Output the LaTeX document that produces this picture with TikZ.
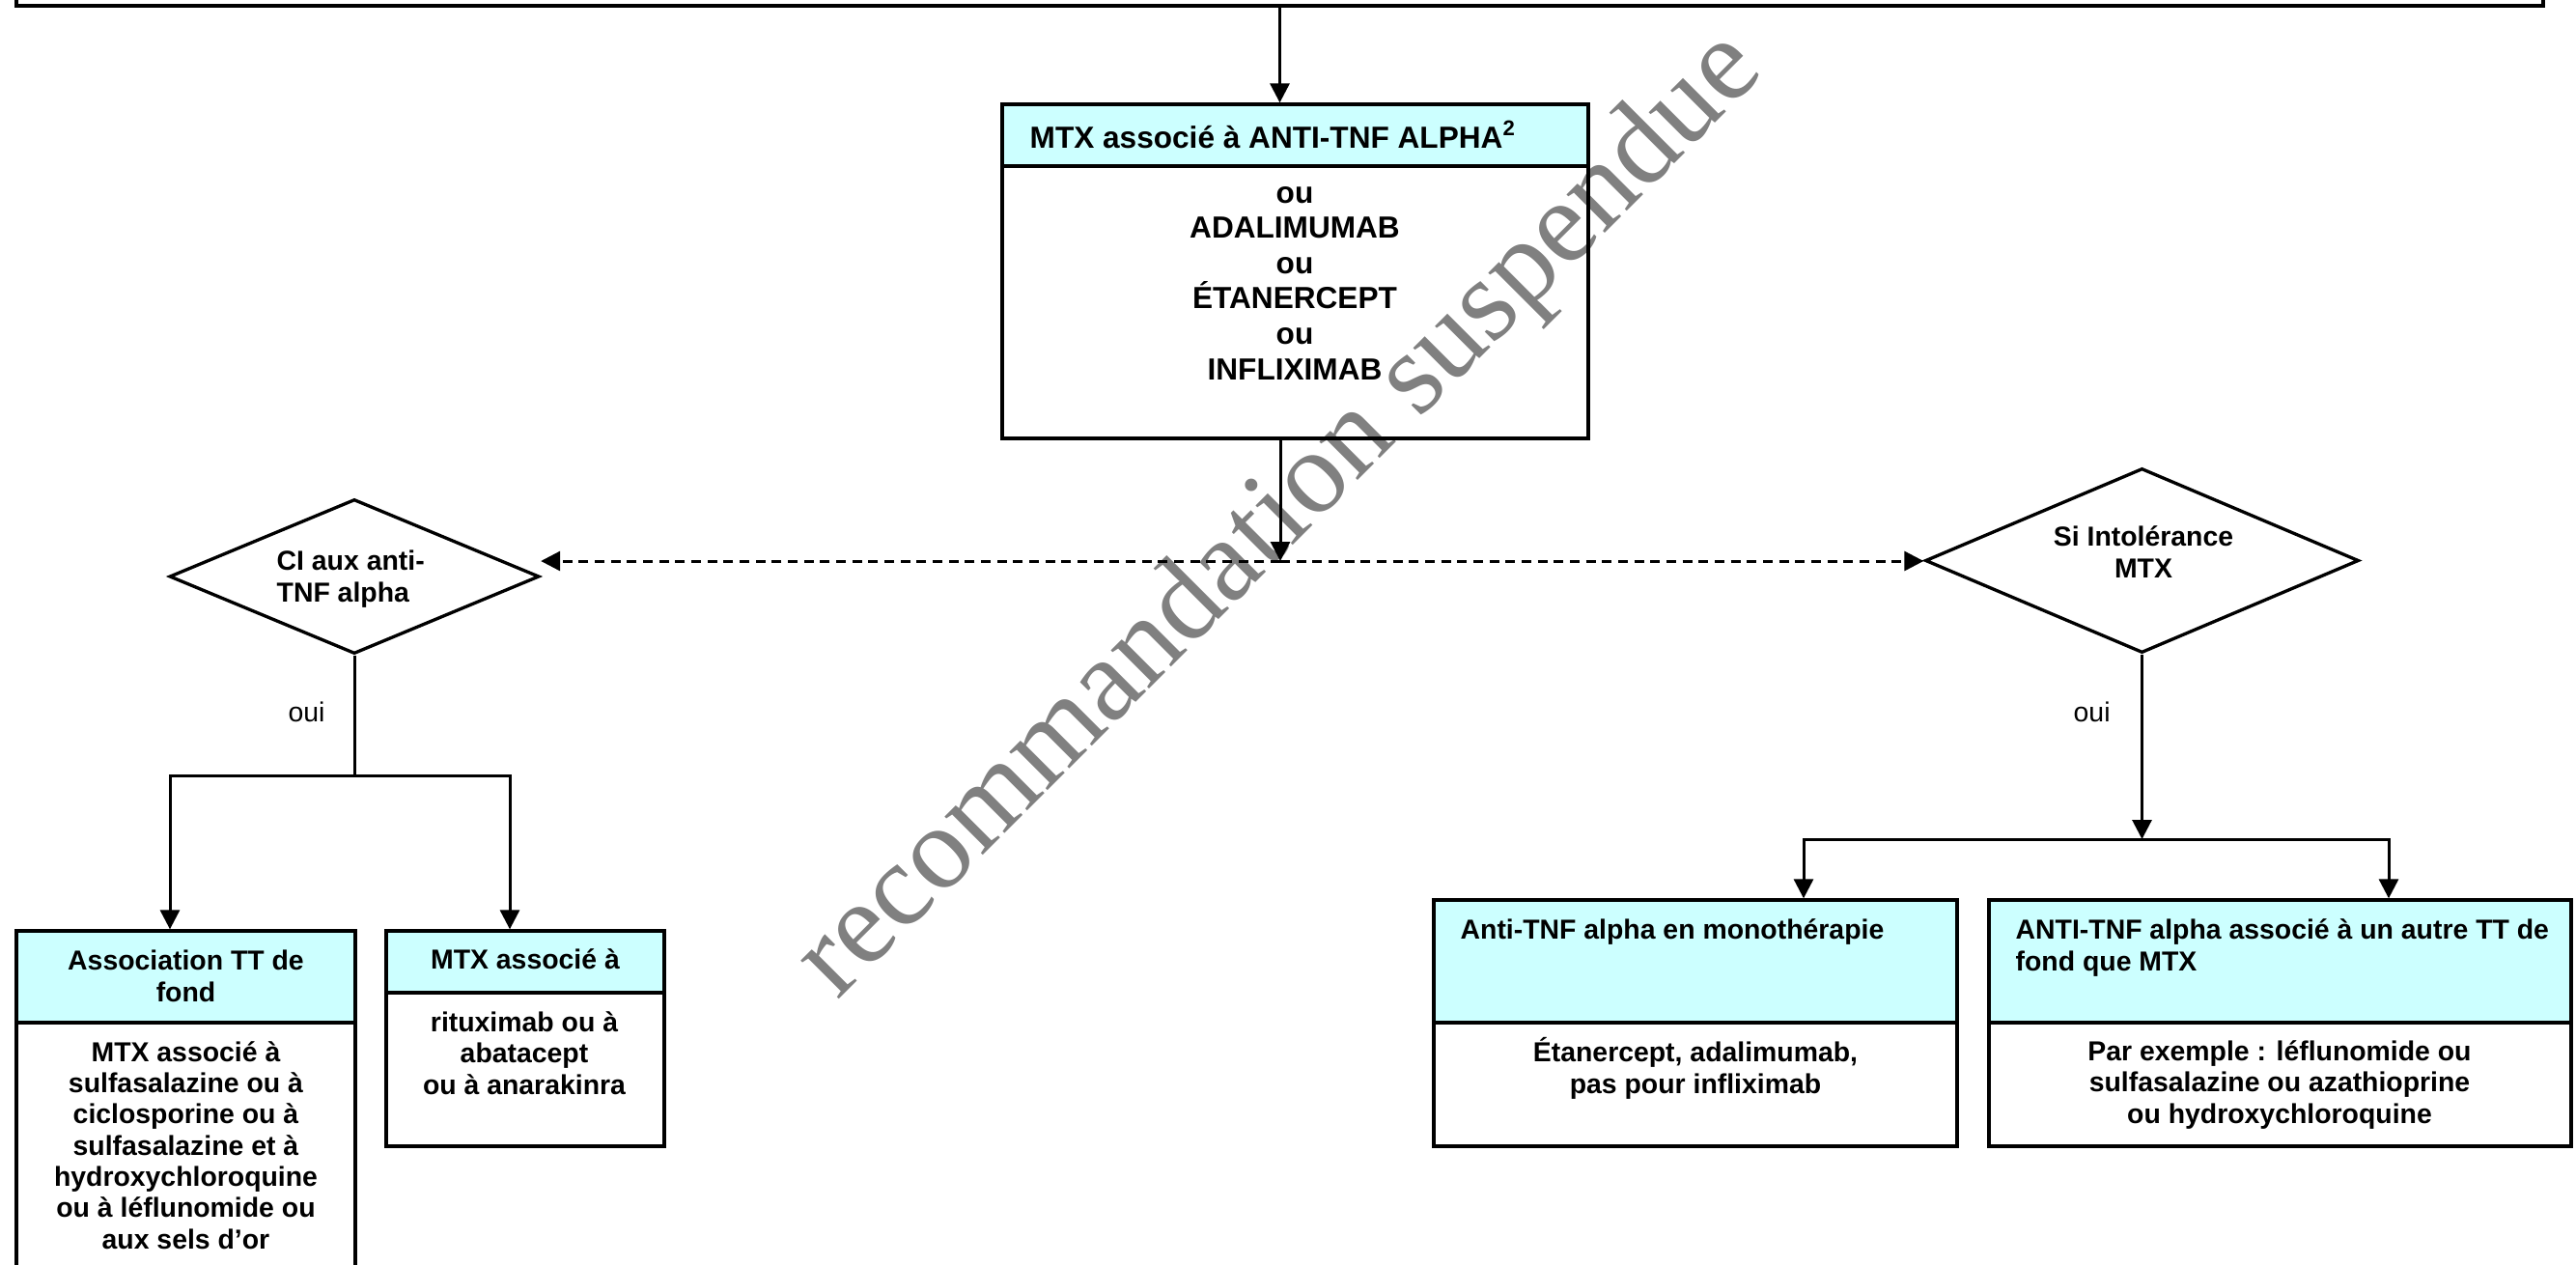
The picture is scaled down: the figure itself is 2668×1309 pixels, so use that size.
\documentclass[tikz,border=0pt]{standalone}
\usepackage{fontspec}
\setmainfont{Liberation Sans}
\newfontfamily\wmfont{Liberation Serif}
\usetikzlibrary{arrows.meta,shapes.geometric,calc}
\definecolor{hdrcyan}{RGB}{204,255,255}
\definecolor{wmgray}{RGB}{128,128,128}
\begin{document}
\begin{tikzpicture}[x=0.3pt,y=-0.3pt,
  boxline/.style={draw=black,line width=1pt},
  hbox/.style={boxline,fill=hdrcyan,inner sep=0pt,rectangle},
  bbox/.style={boxline,inner sep=0pt,rectangle},
  dia/.style={boxline,diamond,inner sep=0pt},
  conn/.style={line width=0.9pt},
  arr/.style={conn,-{Triangle[length=6pt,width=6pt]}},
  dasharr/.style={arr,dash pattern=on 3pt off 2pt},
  bigtxt/.style={inner sep=0pt,font=\fontsize{9.48pt}{10.98pt}\selectfont\bfseries},
  txt/.style={inner sep=0pt,font=\fontsize{8.52pt}{9.7pt}\selectfont\bfseries},
  plaintxt/.style={inner sep=0pt,font=\fontsize{8.52pt}{9.7pt}\selectfont},
  wm/.style={inner sep=0pt,text=wmgray,font=\wmfont\fontsize{36.6pt}{40pt}\selectfont}]
\useasboundingbox (0,0) rectangle (2668,1309);
\clip (0,0) rectangle (2668,1309);
\fill[white] (0,0) rectangle (2668,1309);

% watermark
\node[wm,rotate=45,anchor=base] (wmk) at (1348,556) {recommandation suspendue};

% top box (cut by the page)
\node[bbox,line width=1.1pt,minimum width=785.1pt,minimum height=19.8pt] (topbox) at (1325.5,-27) {};

% main box
\node[hbox,minimum width=182.1pt,minimum height=19.2pt] (mhead) at (1341.5,140) {};
\node[bbox,minimum width=182.1pt,minimum height=84.6pt] (mbody) at (1341.5,313) {};
\node[bigtxt,anchor=base west] (mheadt) at (1066,153) {MTX associé à ANTI-TNF ALPHA\textsuperscript{2}};
\node[bigtxt,anchor=base,align=center] (mbodyt) at (1341,393) {ou\\ADALIMUMAB\\ou\\ÉTANERCEPT\\ou\\INFLIXIMAB};

% diamonds
\node[dia,minimum width=114.9pt,minimum height=48pt] (dl) at (367,597) {};
\node[txt,anchor=base west,align=left] (dlt) at (286,623) {CI aux anti-\\TNF alpha};
\node[dia,minimum width=134.7pt,minimum height=57.3pt] (dr) at (2218.5,580.5) {};
\node[txt,anchor=base,align=center] (drt) at (2220,598) {Si Intolérance\\MTX};

\node[plaintxt,anchor=base west] (ouil) at (298,747) {oui};
\node[plaintxt,anchor=base west] (ouir) at (2147,747) {oui};

% bottom-left boxes
\node[hbox,minimum width=105.3pt,minimum height=28.5pt] (b1h) at (192.5,1011.5) {};
\node[bbox,minimum width=105.3pt,minimum height=84.3pt] (b1b) at (192.5,1199.5) {};
\node[txt,anchor=base,align=center] (b1ht) at (192.5,1037) {Association TT de\\fond};
\node[txt,anchor=base,align=center] (b1bt) at (192.5,1293) {MTX associé à\\sulfasalazine ou à\\ciclosporine ou à\\sulfasalazine et à\\hydroxychloroquine\\ou à léflunomide ou\\aux sels d’or};

\node[hbox,minimum width=86.4pt,minimum height=19.2pt] (b2h) at (544,996) {};
\node[bbox,minimum width=86.4pt,minimum height=47.7pt] (b2b) at (544,1107.5) {};
\node[txt,anchor=base,align=center] (b2ht) at (544,1003) {MTX associé à};
\node[txt,anchor=base,align=center] (b2bt) at (543,1133) {rituximab ou à\\abatacept\\ou à anarakinra};

% bottom-right boxes
\node[hbox,minimum width=162.6pt,minimum height=38.1pt] (b3h) at (1756,995.5) {};
\node[bbox,minimum width=162.6pt,minimum height=38.4pt] (b3b) at (1756,1123) {};
\node[txt,anchor=base west] (b3ht) at (1512,972) {Anti-TNF alpha en monothérapie};
\node[txt,anchor=base,align=center] (b3bt) at (1756,1132) {Étanercept, adalimumab,\\pas pour infliximab};

\node[hbox,minimum width=180.9pt,minimum height=38.1pt] (b4h) at (2361.5,995.5) {};
\node[bbox,minimum width=180.9pt,minimum height=38.4pt] (b4b) at (2361.5,1123) {};
\node[txt,anchor=base west,align=left] (b4ht) at (2087,1005) {ANTI-TNF alpha associé à un autre TT de\\fond que MTX};
\node[txt,anchor=base,align=center] (b4bt) at (2361,1163) {Par exemple : léflunomide ou\\sulfasalazine ou azathioprine\\ou hydroxychloroquine};

% connectors
\coordinate (jn) at (1326,581);
\draw[arr] (topbox.south) -- (topbox.south |- mhead.north);
\draw[arr] (mbody.south -| jn) -- (jn);
\draw[dasharr] (jn) -- (jn -| dl.east);
\draw[dasharr] (jn) -- (jn -| dr.west);

\coordinate (lb) at (367,803);
\coordinate (la) at (176,803);
\coordinate (lc) at (528,803);
\draw[conn] (dl.south) -- (lb);
\draw[arr] (lb) -- (la) -- (la |- b1h.north);
\draw[arr] (lb) -- (lc) -- (lc |- b2h.north);

\coordinate (rb) at (2218.5,869);
\coordinate (ra) at (1868,869);
\coordinate (rc) at (2474,869);
\draw[arr] (dr.south) -- (rb);
\draw[arr] (rb) -- (ra) -- (ra |- b3h.north);
\draw[arr] (rb) -- (rc) -- (rc |- b4h.north);
\end{tikzpicture}
\end{document}
